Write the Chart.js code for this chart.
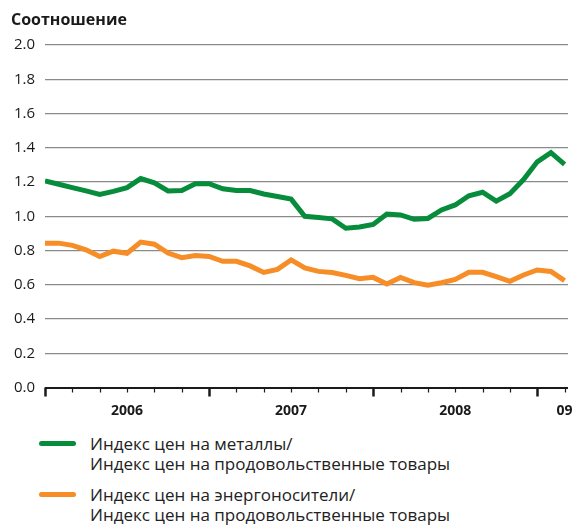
<!DOCTYPE html>
<html>
<head>
<meta charset="utf-8">
<script src="https://cdn.jsdelivr.net/npm/chart.js@4/dist/chart.umd.min.js"></script>
<style>
  body { margin: 0; background: #fff; font-family: "Open Sans", sans-serif; }
  .wrap { position: relative; width: 574px; height: 529px; }
  .title { position: absolute; left: 11px; top: 8px; font-weight: bold; font-size: 16px; color: #1a1a1a; }
  #chart { position: absolute; left: 0; top: 0; }
  .legend { position: absolute; left: 0; top: 434px; font-size: 17px; color: #222; line-height: 20px; }
  .item { position: relative; padding-left: 90px; margin-bottom: 11px; }
  .item i { position: absolute; left: 39px; top: 7px; width: 37px; height: 5px; border-radius: 3px; }
</style>
</head>
<body>
<div class="wrap">
  <canvas id="chart" width="574" height="430"></canvas>
  <div class="title">Соотношение</div>
  <div class="legend">
    <div class="item"><i style="background:#078c3c"></i>Индекс цен на металлы/<br>Индекс цен на продовольственные товары</div>
    <div class="item"><i style="background:#f78d27"></i>Индекс цен на энергоносители/<br>Индекс цен на продовольственные товары</div>
  </div>
</div>
<script>
// monthly, Jan 2006 .. Mar 2009
const metals = [1.206, 1.187, 1.167, 1.148, 1.128, 1.145, 1.167, 1.22, 1.195, 1.148,
  1.15, 1.19, 1.19, 1.16, 1.15, 1.15, 1.13, 1.115, 1.10, 1.0,
  0.993, 0.985, 0.93, 0.937, 0.952, 1.013, 1.008, 0.982, 0.987, 1.037,
  1.066, 1.12, 1.14, 1.088, 1.132, 1.214, 1.318, 1.371, 1.303];
const energy = [0.843, 0.843, 0.83, 0.804, 0.765, 0.796, 0.784, 0.849, 0.837, 0.785,
  0.758, 0.771, 0.765, 0.737, 0.737, 0.71, 0.672, 0.69, 0.745, 0.698,
  0.678, 0.671, 0.655, 0.635, 0.643, 0.604, 0.643, 0.612, 0.598, 0.612,
  0.631, 0.673, 0.673, 0.647, 0.62, 0.657, 0.686, 0.678, 0.624];
const yearLabels = ['2006', '2007', '2008', '09'];
const yearLabelPos = [6, 18, 30, 38];
const yearStarts = [0, 12, 24, 36];

const toPts = arr => arr.map((v, i) => ({ x: i, y: v }));

// x axis ticks below the zero line + year labels
const xAxisPlugin = {
  id: 'xAxisPlugin',
  afterDraw(chart) {
    const ctx = chart.ctx;
    const xs = chart.scales.x, ys = chart.scales.y;
    const y0 = ys.getPixelForValue(0);
    ctx.save();
    ctx.strokeStyle = '#1a1a1a';
    for (let i = 0; i <= 38; i += 2) {
      const major = yearStarts.includes(i);
      const px = Math.round(xs.getPixelForValue(i)) + 0.5;
      ctx.lineWidth = major ? 2.5 : 1.2;
      ctx.beginPath();
      ctx.moveTo(px, y0);
      ctx.lineTo(px, y0 + (major ? 9 : 5));
      ctx.stroke();
    }
    ctx.fillStyle = '#1a1a1a';
    ctx.font = 'bold 14px "Open Sans"';
    ctx.textAlign = 'center';
    ctx.textBaseline = 'middle';
    yearLabels.forEach((t, k) => {
      ctx.fillText(t, xs.getPixelForValue(yearLabelPos[k]), y0 + 24);
    });
    ctx.restore();
  }
};

new Chart(document.getElementById('chart'), {
  type: 'line',
  data: {
    datasets: [
      { data: toPts(metals), borderColor: '#078c3c', borderWidth: 5, pointRadius: 0, tension: 0 },
      { data: toPts(energy), borderColor: '#f78d27', borderWidth: 5, pointRadius: 0, tension: 0 }
    ]
  },
  options: {
    responsive: false,
    animation: false,
    layout: { padding: { top: 45, right: 6, left: 0, bottom: 0 } },
    plugins: { legend: { display: false }, tooltip: { enabled: false } },
    scales: {
      x: {
        type: 'linear',
        min: 0,
        max: 38.25,
        ticks: { display: false },
        grid: { display: false },
        border: { display: false },
        afterFit: s => { s.height = 42.5; }
      },
      y: {
        min: 0,
        max: 2,
        ticks: {
          stepSize: 0.2,
          padding: 10,
          color: '#1a1a1a',
          font: { family: 'Open Sans', size: 15 },
          callback: v => v.toFixed(1)
        },
        grid: {
          drawTicks: false,
          color: c => c.tick.value === 0 ? '#1a1a1a' : '#8a8a8a',
          lineWidth: c => c.tick.value === 0 ? 2 : 1.3
        },
        border: { display: false },
        afterFit: s => { s.width = 45; }
      }
    }
  },
  plugins: [xAxisPlugin]
});
</script>
</body>
</html>
